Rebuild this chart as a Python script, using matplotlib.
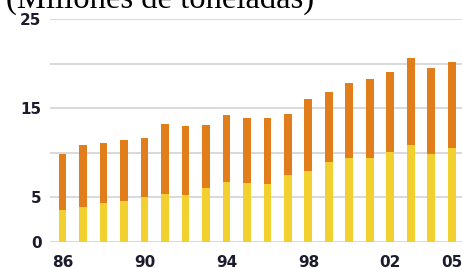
import matplotlib.pyplot as plt
import numpy as np

years = list(range(1986, 2006))
tick_years = [1986, 1990, 1994, 1998, 2002, 2005]
tick_labels = ['86', '90', '94', '98', '02', '05']
# lower (yellow) part and total height of each bar, millions of tonnes
lower = [3.6, 3.9, 4.4, 4.6, 5.0, 5.4, 5.3, 6.1, 6.7, 6.6, 6.5, 7.5,
         8.0, 9.0, 9.4, 9.4, 10.1, 10.9, 9.9, 10.6]
total = [9.85, 10.9, 11.1, 11.5, 11.7, 13.3, 13.0, 13.1, 14.3, 13.9, 13.9, 14.4,
         16.0, 16.85, 17.9, 18.3, 19.1, 20.7, 19.5, 20.2]
upper = np.array(total) - np.array(lower)

fig = plt.figure(figsize=(4.62, 2.68), dpi=100)
ax = fig.add_axes([0.108, 0.097, 0.892, 0.831])

x = np.array(years)
w = 0.38
ax.bar(x, lower, w, color='#F2D030', zorder=3)
ax.bar(x, upper, w, bottom=lower, color='#E27D1B', zorder=3)

ax.set_ylim(0, 25)
ax.set_xlim(1986 - 0.62, 2005 + 0.5)
for v in [0, 5, 10, 15, 20, 25]:
    ax.axhline(v, color='#cfcfd4', linewidth=1.1, zorder=1)

ax.set_yticks([0, 5, 15, 25])
ax.set_yticklabels(['0', '5', '15', '25'])
ax.set_xticks(tick_years)
ax.set_xticklabels(tick_labels)
ax.tick_params(axis='both', length=0, labelsize=11, labelcolor='#1c1c2c')
ax.tick_params(axis='y', pad=6)
ax.tick_params(axis='x', pad=9)
for t in ax.get_xticklabels() + ax.get_yticklabels():
    t.set_fontweight('bold')
for s in ax.spines.values():
    s.set_visible(False)

fig.text(0.012, 1 - 8 / 268, '(Millones de toneladas)', family='Liberation Serif',
         fontsize=23.5, va='baseline', ha='left', color='black')

fig.savefig('out.png', dpi=100)
